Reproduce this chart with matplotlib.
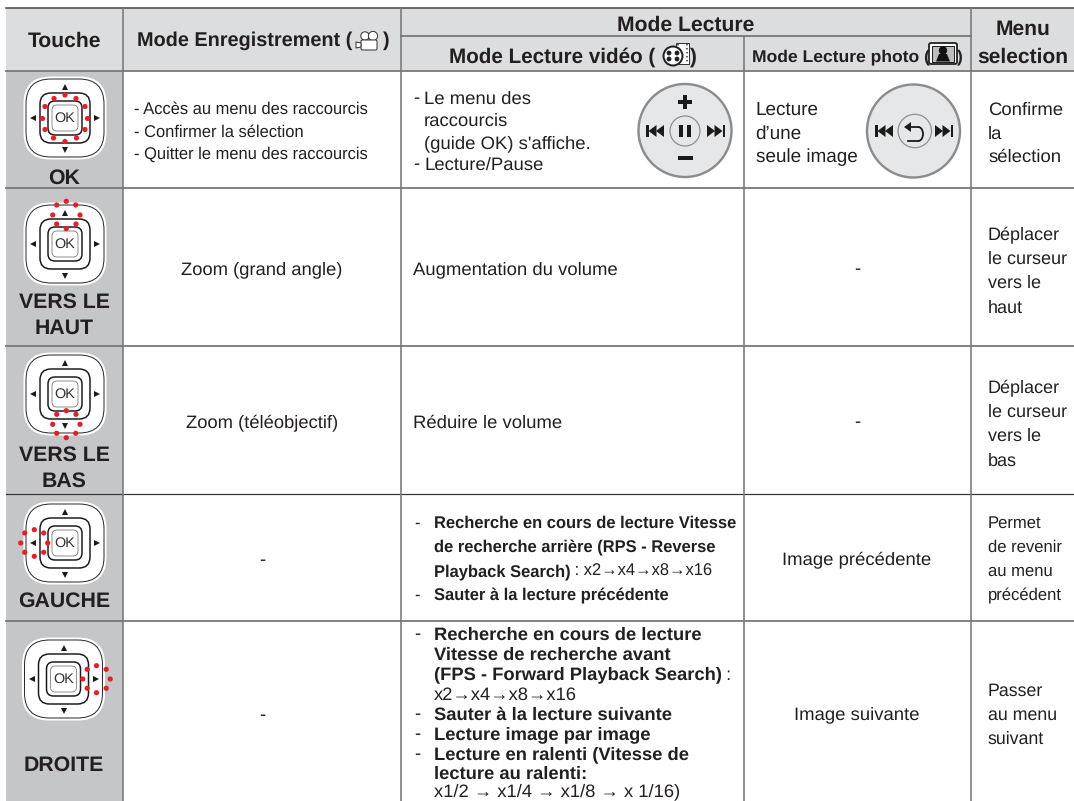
"""Touches de commande du camescope: table rendered on a pixel-sized axes."""
import matplotlib
matplotlib.use("Agg")
import matplotlib.pyplot as plt
from matplotlib.patches import Arc, Circle, FancyBboxPatch, Polygon, Rectangle

plt.rcParams["font.family"] = ["Liberation Sans", "DejaVu Sans"]
plt.rcParams["text.hinting"] = "no_hinting"

WIDTH, HEIGHT = 1074, 801
INK = "#231f20"
HEAD_BG = "#dcddde"
KEY_BG = "#c5c6c8"
RULE = "#77787a"
RED = "#ed1c24"

# table content
KEY_LABELS = [["OK"], ["VERS LE", "HAUT"], ["VERS LE", "BAS"], ["GAUCHE"], ["DROITE"]]
HEAD_TOUCHE = "Touche"
HEAD_REC = "Mode Enregistrement ("
HEAD_PLAY = "Mode Lecture"
HEAD_VIDEO = "Mode Lecture vidéo ("
HEAD_PHOTO = "Mode Lecture photo ("
HEAD_MENU = ["Menu", "selection"]

REC_OK = ["- Accès au menu des raccourcis", "- Confirmer la sélection", "- Quitter le menu des raccourcis"]
REC_UP = "Zoom (grand angle)"
REC_DOWN = "Zoom (téléobjectif)"
VIDEO_OK = [("-", "Le menu des"), ("", "raccourcis"), ("", "(guide OK) s'affiche."), ("-", "Lecture/Pause")]
VIDEO_UP = "Augmentation du volume"
VIDEO_DOWN = "Réduire le volume"
VIDEO_LEFT = [
    ("Recherche en cours de lecture Vitesse", ""),
    ("de recherche arrière (RPS - Reverse", ""),
    ("Playback Search)", " : x2→x4→x8→x16"),
    ("Sauter à la lecture précédente", ""),
]
VIDEO_RIGHT = [
    ("Recherche en cours de lecture", ""),
    ("Vitesse de recherche avant", ""),
    ("(FPS - Forward Playback Search)", " :"),
    ("", "x2→x4→x8→x16"),
    ("Sauter à la lecture suivante", ""),
    ("Lecture image par image", ""),
    ("Lecture en ralenti (Vitesse de", ""),
    ("lecture au ralenti:", ""),
    ("", "x1/2 → x1/4 → x1/8 → x 1/16)"),
]
DASH_LEFT = [0, 3]
DASH_RIGHT = [0, 4, 5, 6]
PHOTO_OK = ["Lecture", "d’une", "seule image"]
PHOTO_LEFT = "Image précédente"
PHOTO_RIGHT = "Image suivante"
MENU_TEXTS = [
    ["Confirme", "la", "sélection"],
    ["Déplacer", "le curseur", "vers le", "haut"],
    ["Déplacer", "le curseur", "vers le", "bas"],
    ["Permet", "de revenir", "au menu", "précédent"],
    ["Passer", "au menu", "suivant"],
]

# layout, in pixels of the picture
COLS = [6, 123, 401, 744, 971, 1074]
HEAD_TOP, HEAD_MID, HEAD_BOTTOM = 8, 36, 71
ROWS = [71, 188, 346, 494, 621, 801]
PAD_CENTERS = [(65, 118), (65, 244), (65, 394), (65, 543), (63.5, 679)]
KEY_BASELINES = [[184], [308, 334], [461, 487], [607], [771]]
MENU_YS = [[108, 132, 155], [233, 257, 281, 306], [386, 410, 434, 459],
           [522, 546, 570, 594], [689, 713, 737]]
MENU_SIZES = [13.3, 13.0, 13.0, 12.0, 12.8]
DOTS = [
    [(0, -23), (-11, -19.5), (11, -19.5), (-20, -11.5), (20, -11.5), (-22.5, 0.5), (22.5, 0.5),
     (-20, 11.5), (20, 11.5), (-11.5, 20), (11.5, 20), (0, 23.5)],
    [(1.3, -42.7), (-8.3, -39), (10.7, -39), (-12.3, -29), (15, -29), (-8.3, -20), (11, -20), (1.3, -15.3)],
    [(1.3, 43.7), (-8.3, 39.3), (10.7, 39.3), (-12.3, 30.3), (15, 30.3), (-8.3, 20.3), (11, 20.3), (1.3, 16.7)],
    [(-44.3, 0), (-40.3, -10), (-30.7, -13.3), (-21.3, -10), (-17.3, 0), (-21.3, 9.3), (-30.7, 13.3), (-40.3, 9.3)],
    [(19.3, 0), (23.7, -9.7), (33, -13.3), (42.7, -9.7), (46.7, 0), (42.7, 9.3), (33, 13.7), (23.7, 9.3)],
]
LEFT_YS = [522, 546, 570, 594]
RIGHT_YS = [633, 653, 673, 693, 713, 733, 753, 772, 790]

fig = plt.figure(figsize=(WIDTH / 100, HEIGHT / 100), dpi=100)
ax = fig.add_axes([0, 0, 1, 1])
ax.set_xlim(0, WIDTH)
ax.set_ylim(HEIGHT, 0)
ax.axis("off")
renderer = fig.canvas.get_renderer()


def px(n):
    return n * 0.72


def label(x, y, s, size=13.3, weight="normal", ha="left"):
    # y is the vertical middle of the line
    return ax.text(x, y, s, fontsize=size, fontweight=weight, ha=ha, va="center_baseline",
                   color=INK, zorder=5)


def rbox(cx, cy, half, rounding, edge, fill="none", lw=1.0, z=3):
    ax.add_patch(FancyBboxPatch((cx - half, cy - half), 2 * half, 2 * half,
                                boxstyle=f"round,pad=0,rounding_size={rounding}",
                                fc=fill, ec=edge, lw=px(lw), zorder=z))


def draw_pad(cx, cy, dots):
    rbox(cx, cy, 40.5, 26, "white", "white", 2.0)
    rbox(cx, cy, 39, 25, "#2b2b2b", "white", 1.0)
    rbox(cx, cy, 25, 11, "#1a1a1a", lw=1.5)
    rbox(cx, cy, 17, 7, "#1a1a1a", lw=1.5)
    rbox(cx, cy, 13, 5, "#777777", lw=0.8)
    ax.text(cx, cy, "OK", fontsize=10.4, ha="center", va="center", color="#333333", zorder=5)
    for dx, dy, m in [(0, -31, "^"), (0, 32, "v"), (-32, 0, "<"), (32, 0, ">")]:
        ax.plot(cx + dx, cy + dy, marker=m, ms=px(6), color="#1a1a1a", mew=0, zorder=5)
    for dx, dy in dots:
        ax.add_patch(Circle((cx + dx, cy + dy), 2.6, fc=RED, ec="none", zorder=6))


def draw_skip(outer, cy, sign):
    # bar on the outer end, two triangles pointing at it; sign=-1 for the left-hand button
    ax.add_patch(Rectangle((outer if sign < 0 else outer - 2.5, cy - 6), 2.5, 12,
                           fc="#1a1a1a", ec="none", zorder=5))
    for off in (2.5, 10):
        tip = outer - sign * off
        base = tip - sign * 8
        ax.add_patch(Polygon([(tip, cy), (base, cy - 6), (base, cy + 6)], fc="#1a1a1a", ec="none", zorder=5))


def draw_dial(cx, cy, r):
    ax.add_patch(Circle((cx, cy), r, fc="#e6e7e8", ec="#8a8c8e", lw=px(2.4), zorder=3))


def draw_camera(x, y):
    ax.add_patch(Circle((x + 9, y + 5), 4.2, fc="white", ec="#333333", lw=px(1), zorder=5))
    ax.add_patch(Circle((x + 17, y + 5), 4.6, fc="white", ec="#333333", lw=px(1), zorder=5))
    ax.add_patch(FancyBboxPatch((x + 5, y + 9), 16, 10, boxstyle="round,pad=0,rounding_size=1.5",
                                fc="white", ec="#333333", lw=px(1), zorder=5))
    ax.add_patch(Polygon([(x + 5, y + 12), (x, y + 11), (x, y + 17), (x + 5, y + 16)],
                         fc="white", ec="#333333", lw=px(1), zorder=5))


def draw_film(x, y):
    ax.add_patch(Rectangle((x + 13, y), 13, 21, fc="white", ec="#333333", lw=px(1), zorder=5))
    ax.plot([x + 15, x + 15], [y + 1, y + 20], color="#333333", lw=px(1.5), ls=":", zorder=5)
    ax.plot([x + 24, x + 24], [y + 1, y + 20], color="#333333", lw=px(1.5), ls=":", zorder=5)
    ax.add_patch(Circle((x + 10, y + 13), 9.5, fc="white", ec="#222222", lw=px(2), zorder=6))
    for dx, dy in [(-4, -3), (4, -3), (-4, 3), (4, 3)]:
        ax.add_patch(Circle((x + 10 + dx, y + 13 + dy), 2.4, fc="#222222", ec="none", zorder=7))


def draw_photo(x, y):
    ax.add_patch(FancyBboxPatch((x, y), 28, 21, boxstyle="round,pad=0,rounding_size=2",
                                fc="white", ec="#222222", lw=px(1.8), zorder=5))
    ax.add_patch(Rectangle((x + 3, y + 2.5), 22, 16, fc="#bcbec0", ec="#222222", lw=px(1), zorder=5))
    ax.add_patch(Circle((x + 14, y + 7.5), 4.2, fc="#111111", ec="none", zorder=6))
    ax.add_patch(Polygon([(x + 7, y + 18.5), (x + 10, y + 11), (x + 18, y + 11), (x + 21, y + 18.5)],
                         fc="#111111", ec="none", zorder=6))


# backgrounds
ax.add_patch(Rectangle((COLS[0], HEAD_TOP), WIDTH - COLS[0], HEAD_BOTTOM - HEAD_TOP, fc=HEAD_BG, ec="none", zorder=1))
ax.add_patch(Rectangle((COLS[0], ROWS[0]), COLS[1] - COLS[0], HEIGHT - ROWS[0], fc=KEY_BG, ec="none", zorder=1))

# rules
ax.plot([COLS[0], WIDTH], [HEAD_TOP, HEAD_TOP], color="#4d4d4f", lw=px(1.6), zorder=2)
ax.plot([COLS[2], COLS[4]], [HEAD_MID, HEAD_MID], color=RULE, lw=px(1.8), zorder=2)
for y in ROWS[:-1]:
    dark = y == 494
    ax.plot([COLS[0], WIDTH], [y, y], color="#333333" if dark else RULE, lw=px(1.2 if dark else 1.8), zorder=2)
for x, top in [(COLS[1], HEAD_TOP), (COLS[2], HEAD_TOP), (COLS[3], HEAD_MID), (COLS[4], HEAD_TOP)]:
    ax.plot([x, x], [top, HEIGHT], color=RULE, lw=px(1.6), zorder=2)

# header
label(64.5, 39, HEAD_TOUCHE, 15.2, "bold", "center")
label(137, 39, HEAD_REC, 14.3, "bold")
label(386, 39, ")", 14.3, "bold", "center")
label(686, 23, HEAD_PLAY, 15.2, "bold", "center")
label(449, 55, HEAD_VIDEO, 14.9, "bold")
label(693, 55, ")", 14.9, "bold", "center")
label(752, 55, HEAD_PHOTO, 12.6, "bold")
label(960, 55, ")", 12.6, "bold", "center")
label(1023, 27, HEAD_MENU[0], 15.1, "bold", "center")
label(1023, 55, HEAD_MENU[1], 15.1, "bold", "center")
draw_camera(356, 31)
draw_film(663, 43)
draw_photo(929, 43)

# first column
for (cx, cy), dots, lines, ys in zip(PAD_CENTERS, DOTS, KEY_LABELS, KEY_BASELINES):
    draw_pad(cx, cy, dots)
    for s, y in zip(lines, ys):
        ax.text(64, y, s, fontsize=15.3, fontweight="bold", ha="center", va="baseline", color=INK, zorder=5)

# recording column
for s, y in zip(REC_OK, [108, 131, 153]):
    label(134, y, s, 11.9)
label(262, 268, REC_UP, 13.2, ha="center")
label(262, 421, REC_DOWN, 13.2, ha="center")
label(262, 559, "-", ha="center")
label(262, 714, "-", ha="center")

# video column
for (dash, s), y in zip(VIDEO_OK, [97, 119, 142, 163]):
    if dash:
        label(413, y, dash)
    label(424, y, s)
label(413, 268, VIDEO_UP)
label(413, 421, VIDEO_DOWN)
for rows, ys, dashes, size in [(VIDEO_LEFT, LEFT_YS, DASH_LEFT, 11.9), (VIDEO_RIGHT, RIGHT_YS, DASH_RIGHT, 13.2)]:
    for i, ((bold, plain), y) in enumerate(zip(rows, ys)):
        if i in dashes:
            label(414, y, "-", size)
        x = 433.5
        if bold:
            bb = label(x, y, bold, size, "bold").get_window_extent(renderer)
            x = ax.transData.inverted().transform((bb.x1, 0))[0]
        if plain:
            label(x, y, plain, size)

# video dial
draw_dial(685, 130.5, 46.5)
ax.add_patch(Circle((685, 131), 15, fc="#e6e7e8", ec="#8a8c8e", lw=px(1.2), zorder=4))
ax.add_patch(Rectangle((679.3, 125), 4, 12, fc="#1a1a1a", ec="none", zorder=5))
ax.add_patch(Rectangle((686.7, 125), 4, 12, fc="#1a1a1a", ec="none", zorder=5))
draw_skip(646, 131, -1)
draw_skip(725, 131, 1)
ax.add_patch(Rectangle((678, 99.7), 14, 4, fc="#1a1a1a", ec="none", zorder=5))
ax.add_patch(Rectangle((683, 94.7), 4, 14, fc="#1a1a1a", ec="none", zorder=5))
ax.add_patch(Rectangle((678, 156), 15, 4, fc="#1a1a1a", ec="none", zorder=5))

# photo column
for s, y in zip(PHOTO_OK, [108, 132, 155]):
    label(755.5, y, s, 13.6)
label(857, 268, "-", ha="center")
label(857, 421, "-", ha="center")
label(857, 558, PHOTO_LEFT, ha="center")
label(857, 713, PHOTO_RIGHT, ha="center")

# photo dial
draw_dial(913.5, 131, 46.5)
ax.add_patch(Circle((914.8, 131), 16.7, fc="#e6e7e8", ec="#8a8c8e", lw=px(1.2), zorder=4))
ax.add_patch(Arc((918, 134), 10, 14.3, theta1=-90, theta2=90, ec="#1a1a1a", lw=px(1.8), zorder=5))
ax.plot([908, 918], [126.9, 126.9], color="#1a1a1a", lw=px(1.8), zorder=5)
ax.plot([908, 918], [141.1, 141.1], color="#1a1a1a", lw=px(1.8), zorder=5)
ax.add_patch(Polygon([(904, 127), (911, 122), (911, 132)], fc="#1a1a1a", ec="none", zorder=5))
draw_skip(875, 131, -1)
draw_skip(953, 131, 1)

# menu column
for lines, ys, size in zip(MENU_TEXTS, MENU_YS, MENU_SIZES):
    for s, y in zip(lines, ys):
        label(988, y, s, size)

fig.savefig("out.png", dpi=100)
